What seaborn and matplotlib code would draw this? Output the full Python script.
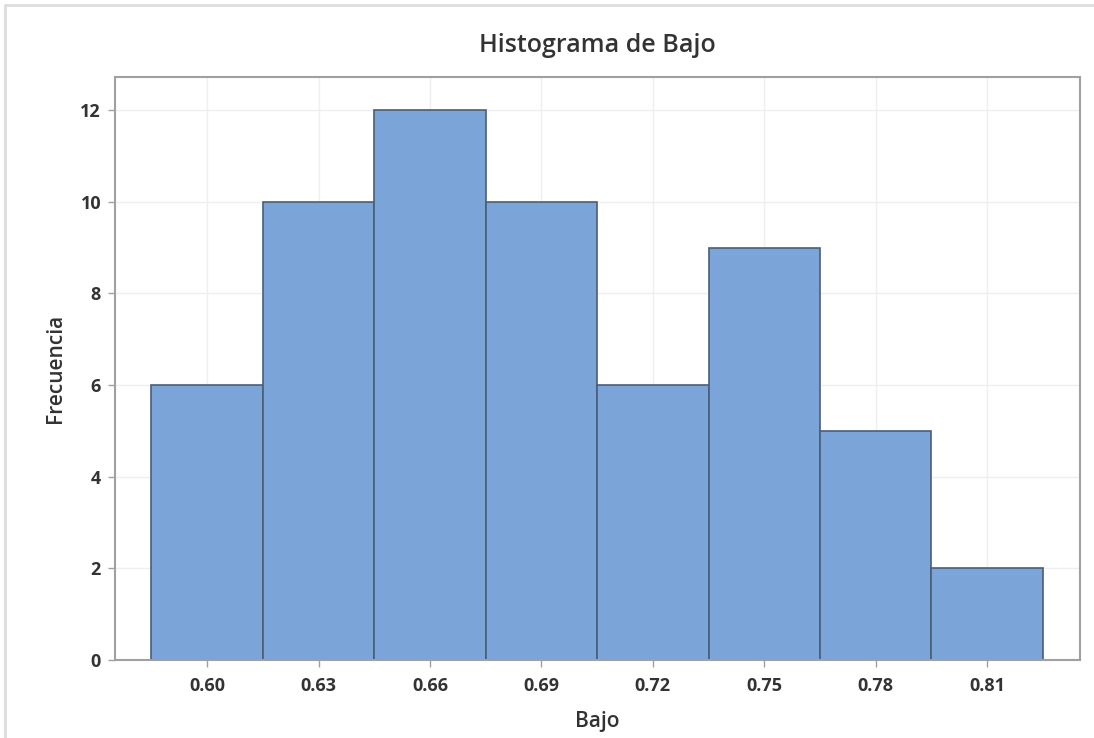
import numpy as np
import pandas as pd
import matplotlib
matplotlib.use("Agg")
import matplotlib.pyplot as plt
import seaborn as sns
from matplotlib.lines import Line2D

# Datos del histograma
bin_centers = [0.60, 0.63, 0.66, 0.69, 0.72, 0.75, 0.78, 0.81]
frecuencias = [6, 10, 12, 10, 6, 9, 5, 2]
bin_width = 0.03
y_ticks = [0, 2, 4, 6, 8, 10, 12]

df = pd.DataFrame({"Bajo": bin_centers, "Frecuencia": frecuencias})
edges = [c - bin_width / 2 for c in bin_centers] + [bin_centers[-1] + bin_width / 2]

sns.set_theme(style="whitegrid")
plt.rcParams['font.family'] = ['Open Sans', 'DejaVu Sans']

fig = plt.figure(figsize=(10.94, 7.38), dpi=100)
ax = fig.add_axes([115 / 1094, 1 - 660 / 738, (1080 - 115) / 1094, (660 - 77) / 738])

sns.histplot(data=df, x="Bajo", weights="Frecuencia",
             binwidth=bin_width, binrange=(edges[0], edges[-1]), ax=ax,
             color="#7BA5D8", alpha=1, edgecolor="#4B5E78", linewidth=1.2)

ax.set_xlim(0.5752, 0.835)
ax.set_ylim(0, 12.72)
ax.set_xticks(bin_centers)
ax.set_xticklabels([f"{c:.2f}" for c in bin_centers])
ax.set_yticks(y_ticks)

ax.grid(True, color="#EFEFEF", linewidth=1)
ax.set_axisbelow(True)
for s in ax.spines.values():
    s.set_color("#A0A0A0")
    s.set_linewidth(1.5)
ax.tick_params(axis="both", which="major", length=5, width=1, color="#A0A0A0",
               labelsize=13, labelcolor="#333333", direction="out",
               bottom=True, left=True)
ax.tick_params(axis="x", pad=7)
ax.tick_params(axis="y", pad=5)
for lbl in ax.get_xticklabels() + ax.get_yticklabels():
    lbl.set_fontweight("bold")

ax.set_xlabel("Bajo", fontsize=15, color="#333333", labelpad=12, fontweight="semibold")
ax.set_ylabel("Frecuencia", fontsize=15, color="#333333", labelpad=10, fontweight="semibold")
fig.text(0.5 * (115 + 1080) / 1094, 1 - 45 / 738, "Histograma de Bajo", ha="center", va="center",
         fontsize=18, color="#333333", fontweight="semibold")

# marco exterior de la ventana
fig.add_artist(Line2D([5 / 1094, 5 / 1094], [0, 1 - 5 / 738], transform=fig.transFigure,
                      color="#DDDDDD", linewidth=2))
fig.add_artist(Line2D([5 / 1094, 1], [1 - 5 / 738, 1 - 5 / 738], transform=fig.transFigure,
                      color="#DDDDDD", linewidth=2))

fig.savefig("out.png", dpi=100)
